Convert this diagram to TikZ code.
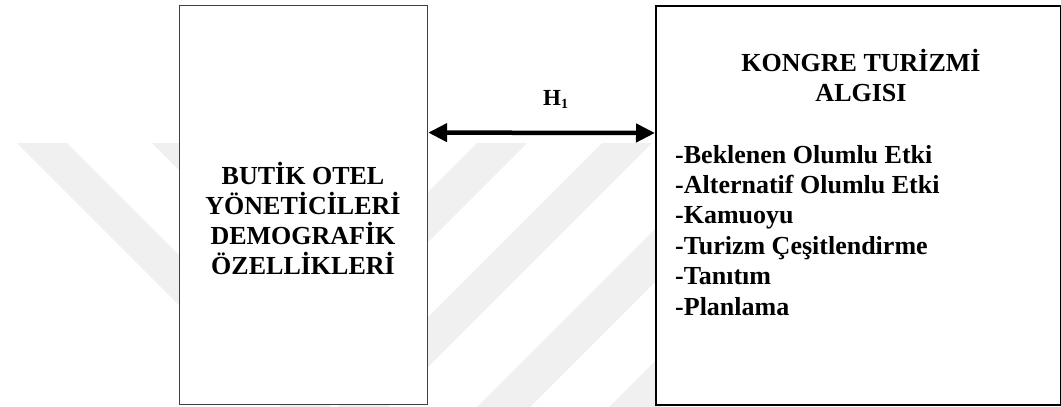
\documentclass[tikz,border=0pt]{standalone}
\usepackage{fontspec}
\setmainfont{Liberation Serif}
\usetikzlibrary{arrows.meta}
\begin{document}
\begin{tikzpicture}[x=1pt,y=-1pt,
  wm/.style={fill=black!6, draw=none},
  lbox/.style={draw=black!75, line width=1.2pt, fill=white, inner sep=0pt, anchor=north west},
  rbox/.style={draw=black, line width=2pt, fill=white, inner sep=0pt, anchor=north west},
  ttl/.style={font=\bfseries\fontsize{26}{30}\selectfont, inner sep=0pt, anchor=base},
  itm/.style={font=\bfseries\fontsize{26}{30}\selectfont, inner sep=0pt, anchor=base west},
  lbl/.style={font=\bfseries\fontsize{23}{26}\selectfont, inner sep=0pt, anchor=base west},
  rel/.style={line width=4.5pt, {Triangle[length=19pt,width=18pt]}-{Triangle[length=19pt,width=18pt]}}
]
\useasboundingbox (0,0) rectangle (1061,407);
% faint watermark
\begin{scope}
\clip (0,0) rectangle (1061,407);
\fill[wm] (17,143) -- (334.5,460.5) -- (652,143) -- (602,143) -- (334.5,410.5) -- (67,143) -- cycle;
\fill[wm] (152,143) -- (339.5,330.5) -- (527,143) -- (477,143) -- (339.5,280.5) -- (202,143) -- cycle;
\fill[wm] (477,407) -- (530,407) -- (794,143) -- (741,143) -- cycle;
\fill[wm] (609,407) -- (660,407) -- (924,143) -- (873,143) -- cycle;
\end{scope}
% boxes
\node[lbox, minimum width=248pt, minimum height=399pt] (L) at (179,5) {};
\node[rbox, minimum width=405pt, minimum height=399pt] (R) at (655,5) {};
% relation arrow
\draw[rel] ([yshift=72.5pt]L.east) -- ([yshift=72.5pt]R.west);
\node[lbl] (H) at (543,105) {H\raisebox{-3pt}{\fontsize{14}{14}\selectfont 1}};
% left text
\node[ttl] (l1) at (303,184.5) {BUTİK OTEL};
\node[ttl] (l2) at (303,214.5) {YÖNETİCİLERİ};
\node[ttl] (l3) at (303,244.5) {DEMOGRAFİK};
\node[ttl] (l4) at (303,274.5) {ÖZELLİKLERİ};
% right text
\node[ttl] (r1) at (861,71.7) {KONGRE TURİZMİ};
\node[ttl] (r2) at (861,101.7) {ALGISI};
\node[itm] (i1) at (675,163) {-Beklenen Olumlu Etki};
\node[itm] (i2) at (675,193.4) {-Alternatif Olumlu Etki};
\node[itm] (i3) at (675,223.8) {-Kamuoyu};
\node[itm] (i4) at (675,254.2) {-Turizm Çeşitlendirme};
\node[itm] (i5) at (675,284.6) {-Tanıtım};
\node[itm] (i6) at (675,315) {-Planlama};
\end{tikzpicture}
\end{document}
